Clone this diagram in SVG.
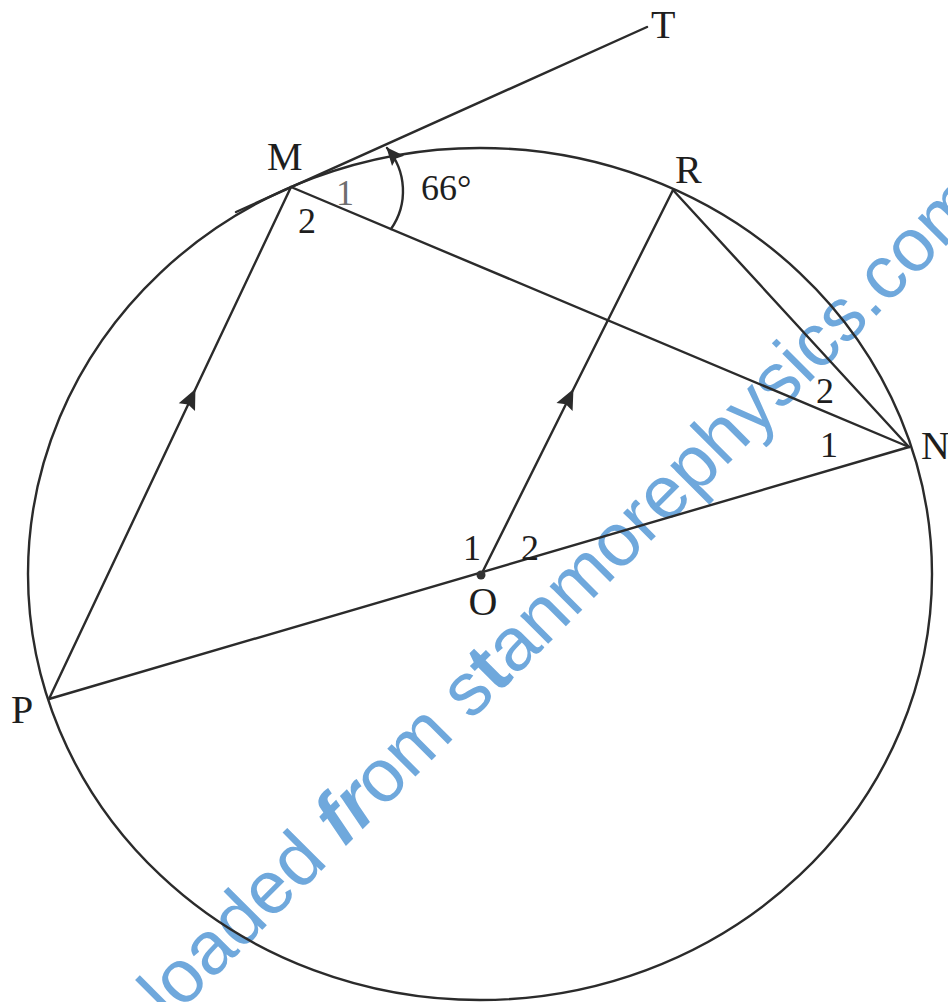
<svg xmlns="http://www.w3.org/2000/svg" width="948" height="1002" viewBox="0 0 948 1002">
  <style>
    .ln { fill: none; stroke: #2b2b2b; stroke-width: 2.4; stroke-linecap: round; }
    .lbl { font-family: "Liberation Serif", "Times New Roman", serif; font-size: 40px; fill: #1e1e1e; }
    .num { font-family: "Liberation Serif", "Times New Roman", serif; font-size: 36px; fill: #1e1e1e; }
    .wm { font-family: "Liberation Sans", Arial, sans-serif; font-size: 75px; fill: #6fa8dc; }
  </style>
  <defs>
    <marker id="par" viewBox="-22 -11 24 22" markerWidth="24" markerHeight="22" refX="0" refY="0" markerUnits="userSpaceOnUse" orient="auto">
      <path d="M1,0 L-19,-9 L-16,0 L-19,9 Z" fill="#2b2b2b"/>
    </marker>
    <marker id="arc-arrow" viewBox="-20 -10 22 20" markerWidth="22" markerHeight="20" refX="0" refY="0" markerUnits="userSpaceOnUse" orient="auto">
      <path d="M1,0 L-17,-8 L-14,0 L-17,8 Z" fill="#2b2b2b"/>
    </marker>
  </defs>
  <rect width="948" height="1002" fill="#ffffff"/>

  <g id="watermark">
    <text class="wm" transform="translate(170,1022) rotate(-45)">loaded <tspan font-weight="bold" font-style="italic">fr</tspan>om s<tspan font-weight="bold">t</tspan>anmorephysics.com</text>
  </g>

  <g id="circle">
    <ellipse class="ln" cx="480" cy="574" rx="452" ry="426"/>
  </g>

  <g id="connectors">
    <line id="tangent-MT" class="ln" x1="236" y1="212" x2="647" y2="27"/>
    <line id="chord-MN" class="ln" x1="291" y1="187" x2="909" y2="447"/>
    <line id="chord-RN" class="ln" x1="673" y1="190" x2="909" y2="447"/>
    <line id="diameter-PN" class="ln" x1="49" y1="699" x2="909" y2="447"/>
    <path id="chord-PM" class="ln" d="M49,699 L195,390 L291,187" marker-mid="url(#par)"/>
    <path id="radius-OR" class="ln" d="M481,575 L573,390 L673,190" marker-mid="url(#par)"/>
    <path id="angle-arc" class="ln" d="M391,229 A66,66 0 0 0 387,148" marker-end="url(#arc-arrow)"/>
  </g>

  <g id="node-T"><text class="lbl" x="651" y="38">T</text></g>
  <g id="node-M">
    <text class="lbl" x="267" y="170">M</text>
    <text class="num" x="336" y="205" style="fill:#6e6e6e">1</text>
    <text class="num" x="298" y="233">2</text>
    <text class="num" x="421" y="200">66°</text>
  </g>
  <g id="node-R"><text class="lbl" x="675" y="183">R</text></g>
  <g id="node-N">
    <text class="lbl" x="921" y="459">N</text>
    <text class="num" x="816" y="403">2</text>
    <text class="num" x="820" y="457">1</text>
  </g>
  <g id="node-O">
    <circle cx="481" cy="575" r="4.5" fill="#333333"/>
    <text class="lbl" x="483" y="615" text-anchor="middle">O</text>
    <text class="num" x="463" y="560">1</text>
    <text class="num" x="521" y="560">2</text>
  </g>
  <g id="node-P"><text class="lbl" x="11" y="723">P</text></g>
</svg>
